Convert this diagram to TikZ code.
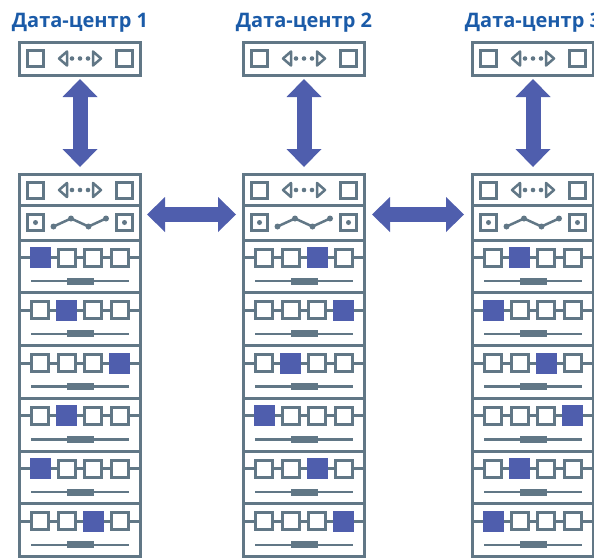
\documentclass[tikz,border=0pt]{standalone}
\usepackage{fontspec}
\setsansfont{Open Sans}
\usetikzlibrary{arrows.meta,positioning}
\definecolor{rackgray}{HTML}{617786}
\definecolor{titleblue}{HTML}{1B5BA8}
\definecolor{linkblue}{HTML}{4F5EAD}

% two ports with a two-way arrow between them
\newcommand{\switchicon}[1]{%
  \begin{scope}[shift={(#1)}]
    \draw[port] (-52.5,-8) rectangle (-36.5,8);
    \draw[port] (36.5,-8) rectangle (52.5,8);
    \draw[icon] (-13,-7) -- (-21,0) -- (-13,7) -- cycle;
    \draw[icon] (13,-7) -- (21,0) -- (13,7) -- cycle;
    \foreach \dx in {-8,0,8} \fill[rackgray] (\dx,0) circle (2.3pt);
  \end{scope}}
% two ports with a zigzag route
\newcommand{\routericon}[1]{%
  \begin{scope}[shift={(#1)}]
    \draw[port] (-52.5,-8) rectangle (-36.5,8);
    \draw[port] (36.5,-8) rectangle (52.5,8);
    \fill[rackgray] (-44.5,0) circle (2.5pt) (44.5,0) circle (2.5pt);
    \draw[icon] (-26.5,4) -- (-9,-4) -- (8.5,4) -- (26,-4);
    \foreach \p in {(-26.5,4),(-9,-4),(8.5,4),(26,-4)} \fill[rackgray] \p circle (3pt);
  \end{scope}}
% one server slot, #1 = top of slot, #2 = busy port
\newcommand{\serverrow}[2]{%
  \begin{scope}[shift={(0,#1)}]
    \draw[rackgray,line width=3pt] (-60.5,0) -- (60.5,0);
    \draw[rackgray,line width=3pt] (-60.5,17.5) -- (60.5,17.5);
    \foreach \s [count=\i] in {-39.75,-13.25,13.25,39.75}{
      \ifnum\i=#2\relax \fill[linkblue] (\s-10.5,7) rectangle ++(21,21);
      \else \draw[port] (\s-8.5,9) rectangle ++(17,17); \fi}
    \draw[rackgray,line width=2.5pt] (-49,41) -- (49,41);
    \fill[rackgray] (-13.5,37.5) rectangle (13.5,44.5);
  \end{scope}}
\newcommand{\rackinside}[2]{%
  \begin{scope}[shift={(#1.north)}]
    \draw[rackgray,line width=3pt] (-60.5,31) -- (60.5,31);
    \switchicon{0,15.5}
    \routericon{0,48}
    \foreach \f [count=\r from 0] in {#2} {\serverrow{65.5+52.75*\r}{\f}}
  \end{scope}}

\begin{document}
\begin{tikzpicture}[x=1pt,y=-1pt]
\tikzset{
  devbox/.style={draw=rackgray,line width=3pt,minimum width=121pt,minimum height=33pt,inner sep=0pt,outer sep=0pt},
  rack/.style={draw=rackgray,line width=3pt,minimum width=121pt,minimum height=382pt,inner sep=0pt,outer sep=0pt},
  dctitle/.style={text=titleblue,font=\sffamily\bfseries\fontsize{20}{22}\selectfont,inner sep=0pt},
  port/.style={draw=rackgray,line width=3pt,fill=white},
  icon/.style={draw=rackgray,line width=2.5pt,line join=round},
  biglink/.style={draw=linkblue,line width=15pt,{Triangle[width=35pt,length=18pt,line width=0pt]}-{Triangle[width=35pt,length=18pt,line width=0pt]}}
}
\useasboundingbox (0,0) rectangle (594,558);
\clip (0,0) rectangle (594,558);
% top switches
\node[devbox] (dev1) at (80,58.5) {};
\node[devbox,right=103pt of dev1] (dev2) {};
\node[devbox,right=108pt of dev2] (dev3) {};
\switchicon{dev1}
\switchicon{dev2}
\switchicon{dev3}
\node[dctitle,above=15pt of dev1,anchor=base] (title1) {Дата-центр 1};
\node[dctitle,above=15pt of dev2,anchor=base] (title2) {Дата-центр 2};
\node[dctitle,above=15pt of dev3,anchor=base] (title3) {Дата-центр 3};
% racks
\node[rack,below=99.5pt of dev1] (rack1) {};
\node[rack,below=99.5pt of dev2] (rack2) {};
\node[rack,below=99.5pt of dev3] (rack3) {};
\rackinside{rack1}{1,2,4,2,1,3}
\rackinside{rack2}{3,4,2,1,3,4}
\rackinside{rack3}{2,1,3,4,2,1}
% links
\draw[biglink,shorten <=4pt,shorten >=7.5pt] (dev1) -- (rack1);
\draw[biglink,shorten <=4pt,shorten >=7.5pt] (dev2) -- (rack2);
\draw[biglink,shorten <=4pt,shorten >=7.5pt] (dev3) -- (rack3);
\draw[biglink,shorten <=6.5pt,shorten >=7.5pt] ([yshift=-40pt]rack1.north east) -- ([yshift=-40pt]rack2.north west);
\draw[biglink,shorten <=7.5pt,shorten >=8.5pt] ([yshift=-40pt]rack2.north east) -- ([yshift=-40pt]rack3.north west);
\end{tikzpicture}
\end{document}
